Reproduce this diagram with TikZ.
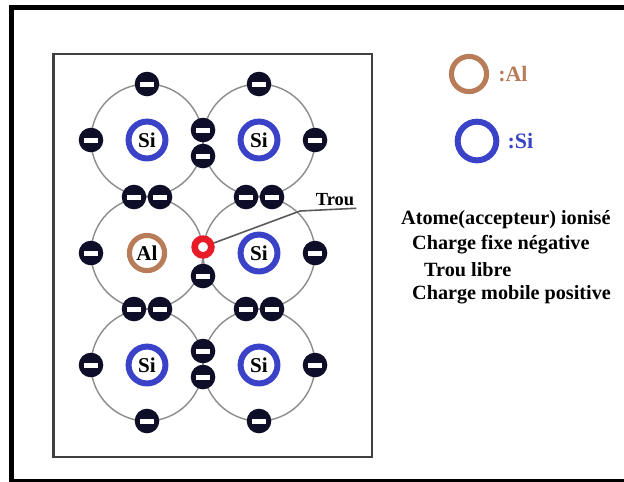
\documentclass[tikz,border=0pt]{standalone}
\usepackage{fontspec}
\setmainfont{Liberation Serif}
\usetikzlibrary{positioning}

\definecolor{siblue}{RGB}{58,66,200}
\definecolor{albrown}{RGB}{184,124,88}
\definecolor{holered}{RGB}{232,28,40}
\definecolor{elecdark}{RGB}{14,14,40}

\begin{document}
\begin{tikzpicture}[
    x=0.02cm, y=-0.02cm,
    orbit/.style={
        draw=gray!90,
        line width=0.8pt
    },
    nucleus/.style={
        circle,
        draw=siblue,
        fill=white,
        line width=3.4pt,
        minimum size=21pt,
        inner sep=0pt,
        font=\bfseries\fontsize{12}{12}\selectfont
    },
    dopant/.style={
        nucleus,
        draw=albrown,
        line width=2.9pt,
        minimum size=20pt
    },
    electron/.style={
        circle,
        fill=elecdark,
        minimum size=14pt,
        inner sep=0pt,
        path picture={
            \fill[white] (path picture bounding box.center) ++(-7,-2.5) rectangle ++(14,5);
        }
    },
    hole/.style={
        circle,
        draw=holered,
        fill=white,
        line width=3.8pt,
        minimum size=9.5pt,
        inner sep=0pt
    },
    legend/.style={
        anchor=west,
        font=\bfseries\fontsize{11.5}{14}\selectfont
    }
]

    % Page and outer frame
    \useasboundingbox (0,0) rectangle (624,481);
    \clip (0,0) rectangle (624,481);
    \fill[white] (0,0) rectangle (624,481);
    \draw[line width=3.4pt] (11.5,7.5) rectangle (700,482);

    % Crystal box
    \draw[line width=1.2pt, black!75] (53.5,54) rectangle (372,457);

    % Orbits
    \foreach \cx/\cy in {147/140, 259/140, 147/253, 259/253, 147/365, 259/365}
        \draw[orbit] (\cx,\cy) circle (56);

    % Trou label and its pointer
    \node[font=\bfseries\fontsize{10.5}{12}\selectfont, inner sep=1pt] (trou) at (335,200) {Trou};
    \coordinate (trouknee) at (300,211);

    % Hole in the middle bond
    \node[hole] (hole) at (203,247) {};
    \draw[gray!70!black, line width=0.9pt] (hole) -- (trouknee) -- (trou.south east);

    % Valence electrons
    \foreach \ex/\ey/\n in {147/84/1, 91/140/2, 259/84/3, 315/140/4,
                            203/130/5, 203/156/6,
                            134/197/7, 160/197/8, 246/197/9, 272/197/10,
                            91/253/11, 315/253/12, 203/276/13,
                            134/309/14, 160/309/15, 246/309/16, 272/309/17,
                            91/365/18, 315/365/19, 203/351/20, 203/377/21,
                            147/421/22, 259/421/23}
        \node[electron] (e\n) at (\ex,\ey) {};

    % Atoms
    \node[nucleus] (si1) at (147,140) {Si};
    \node[nucleus] (si2) at (259,140) {Si};
    \node[dopant] (al) at (147,253) {Al};
    \node[nucleus] (si3) at (259,253) {Si};
    \node[nucleus] (si4) at (147,365) {Si};
    \node[nucleus] (si5) at (259,365) {Si};

    % Key
    \node[dopant, fill=none] (keyal) at (469,74) {};
    \node[right=5pt of keyal, inner sep=0pt, text=albrown, font=\bfseries\fontsize{12.5}{14}\selectfont] (keyaltext) {:Al};
    \node[nucleus, fill=none, minimum size=22pt] (keysi) at (477,141) {};
    \node[right=4.5pt of keysi, inner sep=0pt, text=siblue, font=\bfseries\fontsize{12.5}{14}\selectfont] (keysitext) {:Si};

    % Notes
    \node[legend] (note1) at (395,220) {Atome(accepteur) ionisé};
    \node[legend] (note2) at (406,245) {Charge fixe négative};
    \node[legend] (note3) at (418,270) {Trou libre};
    \node[legend] (note4) at (406,295) {Charge mobile positive};

\end{tikzpicture}
\end{document}
